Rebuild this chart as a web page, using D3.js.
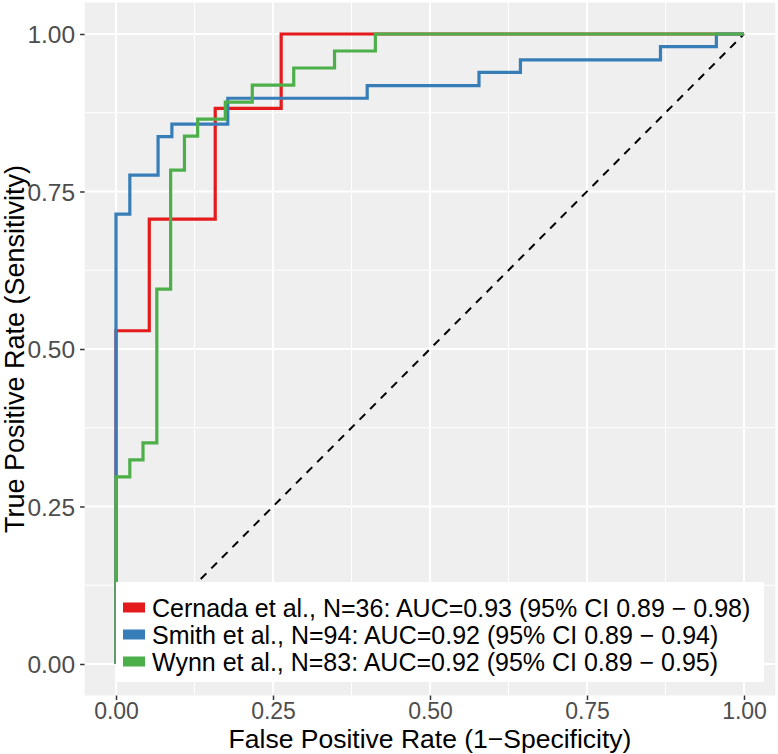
<!DOCTYPE html>
<html>
<head>
<meta charset="utf-8">
<script src="https://cdn.jsdelivr.net/npm/d3@7"></script>
<style>
  html, body { margin: 0; padding: 0; background: #ffffff; }
  svg { display: block; font-family: "Liberation Sans", Arial, Helvetica, sans-serif; }
</style>
</head>
<body>
<svg id="chart" width="778" height="754"></svg>
<script>
// ---- Data (ROC corner points, step-before: vertical then horizontal) ----
const seriesNames = [
  "Cernada et al., N=36: AUC=0.93 (95% CI 0.89 \u2212 0.98)",
  "Smith et al., N=94: AUC=0.92 (95% CI 0.89 \u2212 0.94)",
  "Wynn et al., N=83: AUC=0.92 (95% CI 0.89 \u2212 0.95)"
];
const seriesColors = ["#E41A1C", "#377EB8", "#4DAF4A"];

const cernadaFpr = [0, 0.053, 0.158, 0.263, 1.0];
const cernadaTpr = [0, 0.529, 0.706, 0.882, 1.0];

const smithFpr = [0, 0.022, 0.067, 0.089, 0.178, 0.400, 0.578, 0.644, 0.867, 0.956, 1.0];
const smithTpr = [0, 0.714, 0.776, 0.837, 0.857, 0.898, 0.918, 0.939, 0.959, 0.980, 1.0];

const wynnFpr = [0, 0.022, 0.043, 0.065, 0.087, 0.109, 0.130, 0.174, 0.217, 0.283, 0.348, 0.413, 1.0];
const wynnTpr = [0, 0.297, 0.324, 0.351, 0.595, 0.784, 0.838, 0.865, 0.892, 0.919, 0.946, 0.973, 1.0];

const tickValues = [0, 0.25, 0.5, 0.75, 1.0];
const tickLabels = ["0.00", "0.25", "0.50", "0.75", "1.00"];
const minorValues = [0.125, 0.375, 0.625, 0.875];

const xTitle = "False Positive Rate (1\u2212Specificity)";
const yTitle = "True Positive Rate (Sensitivity)";

// ---- Layout ----
const svg = d3.select("#chart");
const W = 778, H = 754;
svg.append("rect").attr("width", W).attr("height", H).attr("fill", "#ffffff");

const x = d3.scaleLinear().domain([-0.05, 1.05]).range([84.6, 775.4]);
const y = d3.scaleLinear().domain([-0.05, 1.05]).range([695.5, 2.5]);

// panel
svg.append("rect")
  .attr("x", x(-0.05)).attr("y", y(1.05))
  .attr("width", x(1.05) - x(-0.05)).attr("height", y(-0.05) - y(1.05))
  .attr("fill", "#EFEFEF");

const grid = svg.append("g");
// minor grid
minorValues.forEach(v => {
  grid.append("line").attr("x1", x(v)).attr("x2", x(v))
    .attr("y1", y(-0.05)).attr("y2", y(1.05))
    .attr("stroke", "#ffffff").attr("stroke-width", 1);
  grid.append("line").attr("y1", y(v)).attr("y2", y(v))
    .attr("x1", x(-0.05)).attr("x2", x(1.05))
    .attr("stroke", "#ffffff").attr("stroke-width", 1);
});
// major grid
tickValues.forEach(v => {
  grid.append("line").attr("x1", x(v)).attr("x2", x(v))
    .attr("y1", y(-0.05)).attr("y2", y(1.05))
    .attr("stroke", "#ffffff").attr("stroke-width", 2);
  grid.append("line").attr("y1", y(v)).attr("y2", y(v))
    .attr("x1", x(-0.05)).attr("x2", x(1.05))
    .attr("stroke", "#ffffff").attr("stroke-width", 2);
});

// diagonal reference
svg.append("line")
  .attr("x1", x(0)).attr("y1", y(0)).attr("x2", x(1)).attr("y2", y(1))
  .attr("stroke", "#000000").attr("stroke-width", 2)
  .attr("stroke-dasharray", "8,7");

// ROC curves
const curves = [
  { fpr: cernadaFpr, tpr: cernadaTpr },
  { fpr: smithFpr, tpr: smithTpr },
  { fpr: wynnFpr, tpr: wynnTpr }
];
const line = d3.line()
  .x(d => x(d[0])).y(d => y(d[1]))
  .curve(d3.curveStepBefore);

curves.forEach((c, i) => {
  const pts = c.fpr.map((f, j) => [f, c.tpr[j]]);
  svg.append("path")
    .attr("d", line(pts))
    .attr("fill", "none")
    .attr("stroke", seriesColors[i])
    .attr("stroke-width", 3.2)
    .attr("stroke-linejoin", "miter");
});

// axes (ticks + labels)
const xAxis = d3.axisBottom(x).tickValues(tickValues)
  .tickFormat((d, i) => tickLabels[i]).tickSize(4.5).tickPadding(4);
const yAxis = d3.axisLeft(y).tickValues(tickValues)
  .tickFormat((d, i) => tickLabels[i]).tickSize(4.5).tickPadding(4);

const gx = svg.append("g").attr("transform", `translate(0,${y(-0.05)})`).call(xAxis);
gx.select(".domain").remove();
gx.selectAll(".tick line").attr("stroke", "#333333").attr("stroke-width", 1.5);
gx.selectAll(".tick text").attr("fill", "#4D4D4D")
  .style("font-size", "23px").style("font-family", "Liberation Sans, Arial, sans-serif")
  .attr("dy", null).attr("y", 23);

const gy = svg.append("g").attr("transform", `translate(${x(-0.05)},0)`).call(yAxis);
gy.select(".domain").remove();
gy.selectAll(".tick line").attr("stroke", "#333333").attr("stroke-width", 1.5);
gy.selectAll(".tick text").attr("fill", "#4D4D4D")
  .style("font-size", "24.5px").style("font-family", "Liberation Sans, Arial, sans-serif")
  .attr("x", -9.5).attr("dy", "0.35em");

// axis titles
svg.append("text")
  .attr("x", (x(0) + x(1)) / 2).attr("y", 748.3)
  .attr("text-anchor", "middle").attr("fill", "#000000")
  .style("font-size", "26.5px")
  .text(xTitle);

svg.append("text")
  .attr("transform", `translate(24,${(y(0) + y(1)) / 2}) rotate(-90)`)
  .attr("text-anchor", "middle").attr("fill", "#000000")
  .style("font-size", "27px")
  .text(yTitle);

// legend
const lg = svg.append("g");
lg.append("rect")
  .attr("x", 116).attr("y", 582).attr("width", 648).attr("height", 100)
  .attr("fill", "#ffffff");
seriesNames.forEach((name, i) => {
  const cy = 607.5 + i * 27;
  lg.append("rect")
    .attr("x", 123).attr("y", cy - 5).attr("width", 22).attr("height", 10)
    .attr("fill", seriesColors[i]);
  lg.append("text")
    .attr("x", 152).attr("y", cy + 9)
    .attr("fill", "#000000")
    .style("font-size", "25px")
    .text(name);
});
</script>
</body>
</html>
